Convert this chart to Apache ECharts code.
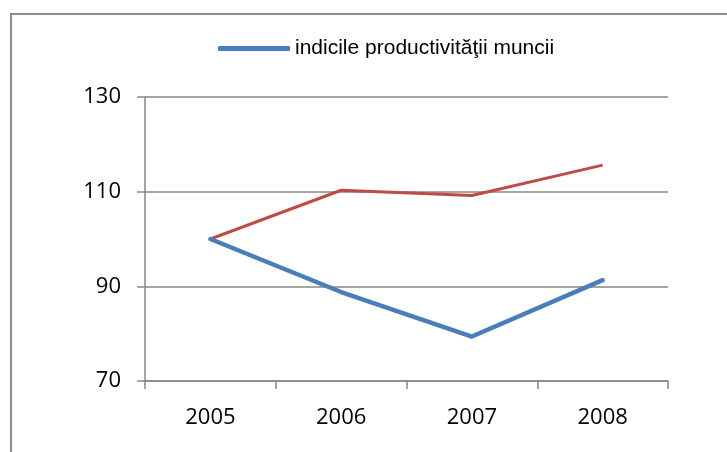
<!DOCTYPE html>
<html>
<head>
<meta charset="utf-8">
<script src="https://cdn.jsdelivr.net/npm/echarts@6/dist/echarts.min.js"></script>
<style>
  html, body { margin: 0; padding: 0; background: #fff; }
  #chart { width: 727px; height: 452px; }
</style>
</head>
<body>
<div id="chart"></div>
<script>
const years = ['2005', '2006', '2007', '2008'];
const productivitate = [100, 88.8, 79.4, 91.3];
const altIndice = [100, 110.3, 109.2, 115.6];
const yTicks = { min: 70, max: 130, step: 20 };

const gridGray = '#878787';

const chart = echarts.init(document.getElementById('chart'));

chart.setOption({
  animation: false,
  graphic: [{
    type: 'rect',
    shape: { x: 11, y: 14, width: 800, height: 500 },
    style: { fill: 'none', stroke: '#8c8c8c', lineWidth: 2 }
  }],
  legend: {
    data: ['indicile productivităţii muncii'],
    left: 213,
    top: 33,
    icon: 'roundRect',
    itemWidth: 72,
    itemHeight: 5,
    itemGap: 10,
    textStyle: { fontFamily: 'Liberation Sans', fontSize: 21, color: '#000' }
  },
  grid: { left: 145, right: 59, top: 97, bottom: 71 },
  xAxis: {
    type: 'category',
    data: years,
    boundaryGap: true,
    axisLine: { lineStyle: { color: gridGray, width: 1.5 } },
    axisTick: { show: true, length: 8, lineStyle: { color: gridGray, width: 1.5 } },
    axisLabel: { color: '#000', fontFamily: 'Open Sans', fontSize: 22, margin: 26 }
  },
  yAxis: {
    type: 'value',
    min: yTicks.min,
    max: yTicks.max,
    interval: yTicks.step,
    axisLine: { show: true, lineStyle: { color: gridGray, width: 1.5 } },
    axisTick: { show: true, length: 8, lineStyle: { color: gridGray, width: 1.5 } },
    splitLine: { lineStyle: { color: gridGray, width: 1.5 } },
    axisLabel: { color: '#000', fontFamily: 'Open Sans', fontSize: 22, margin: 24 }
  },
  series: [
    {
      name: 'indicile productivităţii muncii',
      type: 'line',
      data: productivitate,
      symbol: 'none',
      z: 3,
      lineStyle: { color: '#4a7ebb', width: 4.5, cap: 'round' },
      itemStyle: { color: '#4a7ebb' }
    },
    {
      name: 'alt indice',
      type: 'line',
      data: altIndice,
      symbol: 'none',
      z: 2,
      lineStyle: { color: '#be4b48', width: 3 },
      itemStyle: { color: '#be4b48' }
    }
  ]
});
</script>
</body>
</html>
